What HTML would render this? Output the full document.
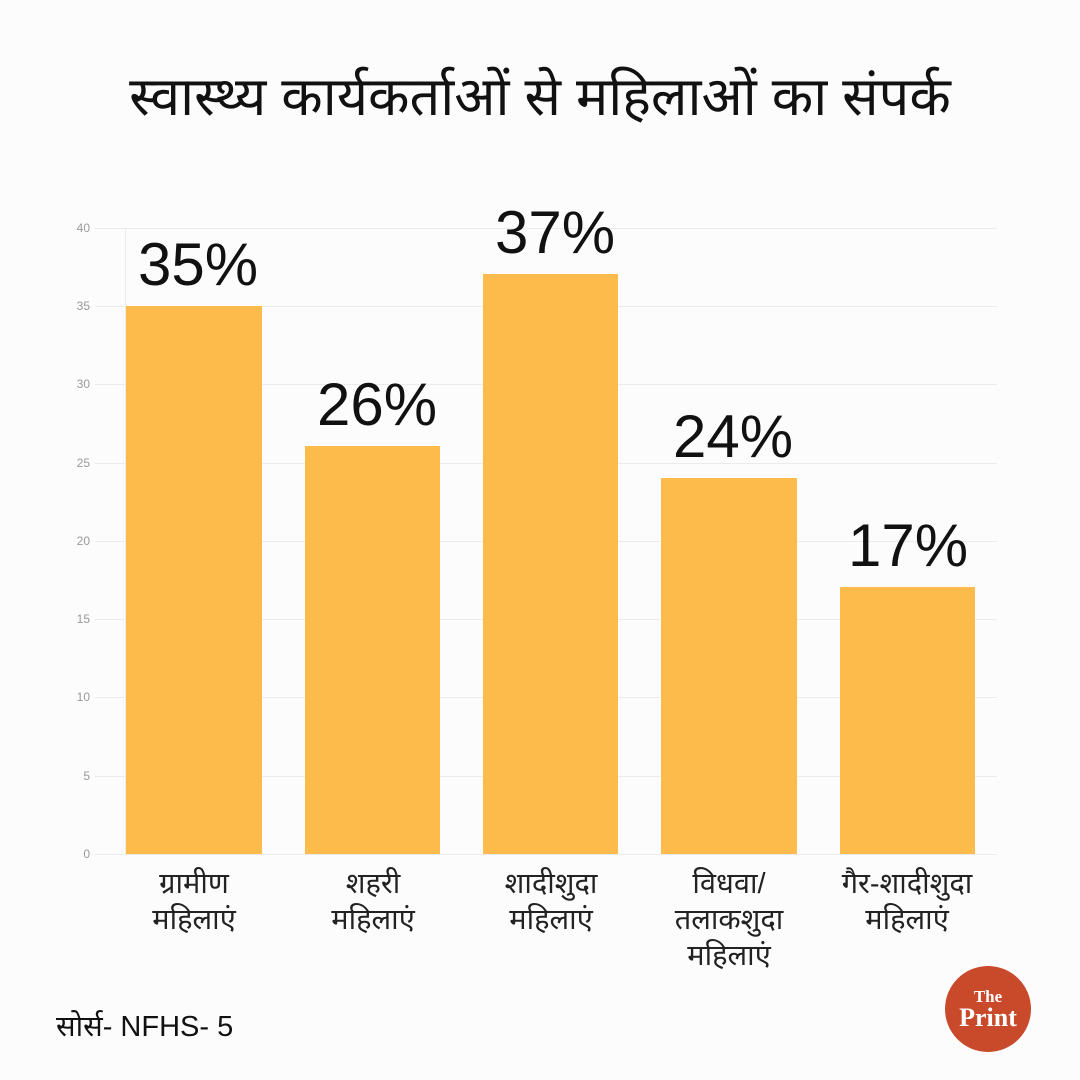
<!DOCTYPE html>
<html><head><meta charset="utf-8"><style>
body{margin:0;width:1080px;height:1080px;background:#fcfcfc;position:relative;overflow:hidden;font-family:"Liberation Sans","Noto Sans Devanagari","Lohit Devanagari",sans-serif}
.a{position:absolute}
.g{position:absolute;left:95px;width:902px;height:1px;background:#ebebeb}
.t{position:absolute;left:60px;width:30px;text-align:right;font-size:12px;color:#999}
.bar{position:absolute;background:#fdbb4c;bottom:226px}
.v{position:absolute;width:180px;text-align:center;font-size:60px;color:#111}
.l{position:absolute;width:180px;text-align:center;font-size:29px;line-height:36px;color:#222}
</style></head><body>
<div class="a" style="left:0;top:66px;width:1080px;text-align:center;font-size:54px;color:#111">स्वास्थ्य कार्यकर्ताओं से महिलाओं का संपर्क</div>
<div class="a" style="left:125px;top:228px;width:1px;height:626px;background:#ebebeb"></div>
<div class="g" style="top:228px"></div><div class="t" style="top:221px">40</div>
<div class="g" style="top:306px"></div><div class="t" style="top:299px">35</div>
<div class="g" style="top:384px"></div><div class="t" style="top:377px">30</div>
<div class="g" style="top:463px"></div><div class="t" style="top:456px">25</div>
<div class="g" style="top:541px"></div><div class="t" style="top:534px">20</div>
<div class="g" style="top:619px"></div><div class="t" style="top:612px">15</div>
<div class="g" style="top:697px"></div><div class="t" style="top:690px">10</div>
<div class="g" style="top:776px"></div><div class="t" style="top:769px">5</div>
<div class="g" style="top:854px"></div><div class="t" style="top:847px">0</div>
<div class="bar" style="left:126px;width:136px;top:306px"></div>
<div class="bar" style="left:305px;width:135px;top:446px"></div>
<div class="bar" style="left:483px;width:135px;top:274px"></div>
<div class="bar" style="left:661px;width:136px;top:478px"></div>
<div class="bar" style="left:840px;width:135px;top:587px"></div>
<div class="v" style="left:108px;top:230px">35%</div>
<div class="v" style="left:287px;top:370px">26%</div>
<div class="v" style="left:465px;top:198px">37%</div>
<div class="v" style="left:643px;top:402px">24%</div>
<div class="v" style="left:818px;top:511px">17%</div>
<div class="l" style="left:104px;top:866px">ग्रामीण<br>महिलाएं</div>
<div class="l" style="left:283px;top:866px">शहरी<br>महिलाएं</div>
<div class="l" style="left:461px;top:866px">शादीशुदा<br>महिलाएं</div>
<div class="l" style="left:639px;top:866px">विधवा/<br>तलाकशुदा<br>महिलाएं</div>
<div class="l" style="left:817px;top:866px">गैर-शादीशुदा<br>महिलाएं</div>
<div class="a" style="left:56px;top:1010px;font-size:29px;color:#111">सोर्स- NFHS- 5</div>
<div class="a" style="left:945px;top:966px;width:86px;height:86px;border-radius:50%;background:#c94a2b;color:#fff;text-align:center;font-family:'Liberation Serif',serif;font-weight:bold">
<div style="font-size:17px;margin-top:22px;line-height:17px">The</div>
<div style="font-size:26px;line-height:26px">Print</div></div>
</body></html>
